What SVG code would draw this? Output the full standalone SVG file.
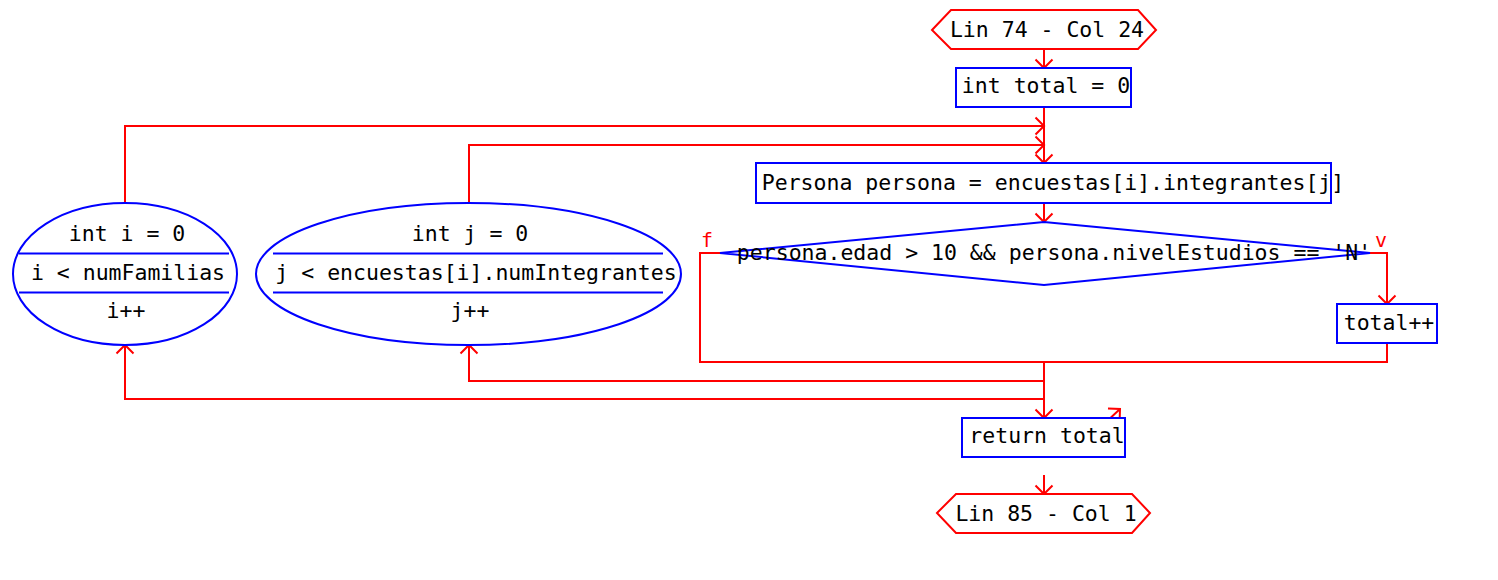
<svg xmlns="http://www.w3.org/2000/svg" width="1498" height="580" viewBox="0 0 1498 580">
<style>
text{font-family:"DejaVu Sans Mono","Liberation Mono",monospace;font-size:21.5px;fill:#000;text-anchor:middle}
.lbl{fill:#ff0000;font-size:20px;text-anchor:start}
.term{fill:#fff;stroke:#ff0000;stroke-width:2}
.box{fill:#fff;stroke:#0000ff;stroke-width:2}
.sep{stroke:#0000ff;stroke-width:2}
.c{fill:none;stroke:#ff0000;stroke-width:2}
</style>
<defs>
<marker id="arr" markerUnits="userSpaceOnUse" markerWidth="24" markerHeight="24" refX="12" refY="12" orient="auto" overflow="visible">
<path d="M3.5,3.5 L12,12 L3.5,20.5" fill="none" stroke="#ff0000" stroke-width="2"/>
</marker>
</defs>
<rect width="1498" height="580" fill="#fff"/>
<g id="connectors">
<path class="c" d="M1044,49 V68" marker-end="url(#arr)"/>
<path class="c" d="M1044,107 V163" marker-end="url(#arr)"/>
<path class="c" d="M125,203 V126 H1044" marker-end="url(#arr)"/>
<path class="c" d="M469,203 V145 H1044" marker-end="url(#arr)"/>
<path class="c" d="M1044,203 V222" marker-end="url(#arr)"/>
<path class="c" d="M1370,253 H1387 V304" marker-end="url(#arr)"/>
<path class="c" d="M720,253 H700 V362 H1044"/>
<path class="c" d="M1387,343 V362 H1044"/>
<path class="c" d="M1044,362 V418" marker-end="url(#arr)"/>
<path class="c" d="M1044,381 H469 V345" marker-end="url(#arr)"/>
<path class="c" d="M1044,399 H125 V345" marker-end="url(#arr)"/>
<path class="c" d="M1104,424 L1120,409" marker-end="url(#arr)"/>
<path class="c" d="M1044,475 V494" marker-end="url(#arr)"/>
<text class="lbl" x="701" y="247">f</text>
<text class="lbl" x="1375" y="247">v</text>
</g>
<g id="start">
<polygon class="term" points="932,30 951,10 1138,10 1156,30 1138,49 951,49"/>
<text x="1047" y="37">Lin 74 - Col 24</text>
</g>
<g id="init-total">
<rect class="box" x="956" y="68" width="175" height="39"/>
<text x="1046" y="93">int total = 0</text>
</g>
<g id="loop-i">
<ellipse class="box" cx="125" cy="274" rx="112" ry="71"/>
<line class="sep" x1="19" y1="253.5" x2="229" y2="253.5"/>
<line class="sep" x1="19" y1="292.5" x2="229" y2="292.5"/>
<text x="127" y="241">int i = 0</text>
<text x="128" y="280">i &lt; numFamilias</text>
<text x="126" y="318">i++</text>
</g>
<g id="loop-j">
<ellipse class="box" cx="468.5" cy="274" rx="212.5" ry="71"/>
<line class="sep" x1="273" y1="253.5" x2="663" y2="253.5"/>
<line class="sep" x1="273" y1="292.5" x2="663" y2="292.5"/>
<text x="470" y="241">int j = 0</text>
<text x="476" y="280">j &lt; encuestas[i].numIntegrantes</text>
<text x="470" y="318">j++</text>
</g>
<g id="persona">
<rect class="box" x="756" y="163" width="575" height="40"/>
<text x="1053" y="190">Persona persona = encuestas[i].integrantes[j]</text>
</g>
<g id="decision">
<polygon class="box" points="720,253 1044,222 1370,253 1044,285"/>
<text x="1054" y="260">persona.edad &gt; 10 &amp;&amp; persona.nivelEstudios == 'N'</text>
</g>
<g id="increment-total">
<rect class="box" x="1337" y="304" width="100" height="39"/>
<text x="1389" y="330">total++</text>
</g>
<g id="return">
<rect class="box" x="962" y="418" width="163" height="39"/>
<text x="1047" y="443">return total</text>
</g>
<g id="end">
<polygon class="term" points="937,513 956,494 1132,494 1150,513 1132,533 956,533"/>
<text x="1046" y="521">Lin 85 - Col 1</text>
</g>
</svg>
